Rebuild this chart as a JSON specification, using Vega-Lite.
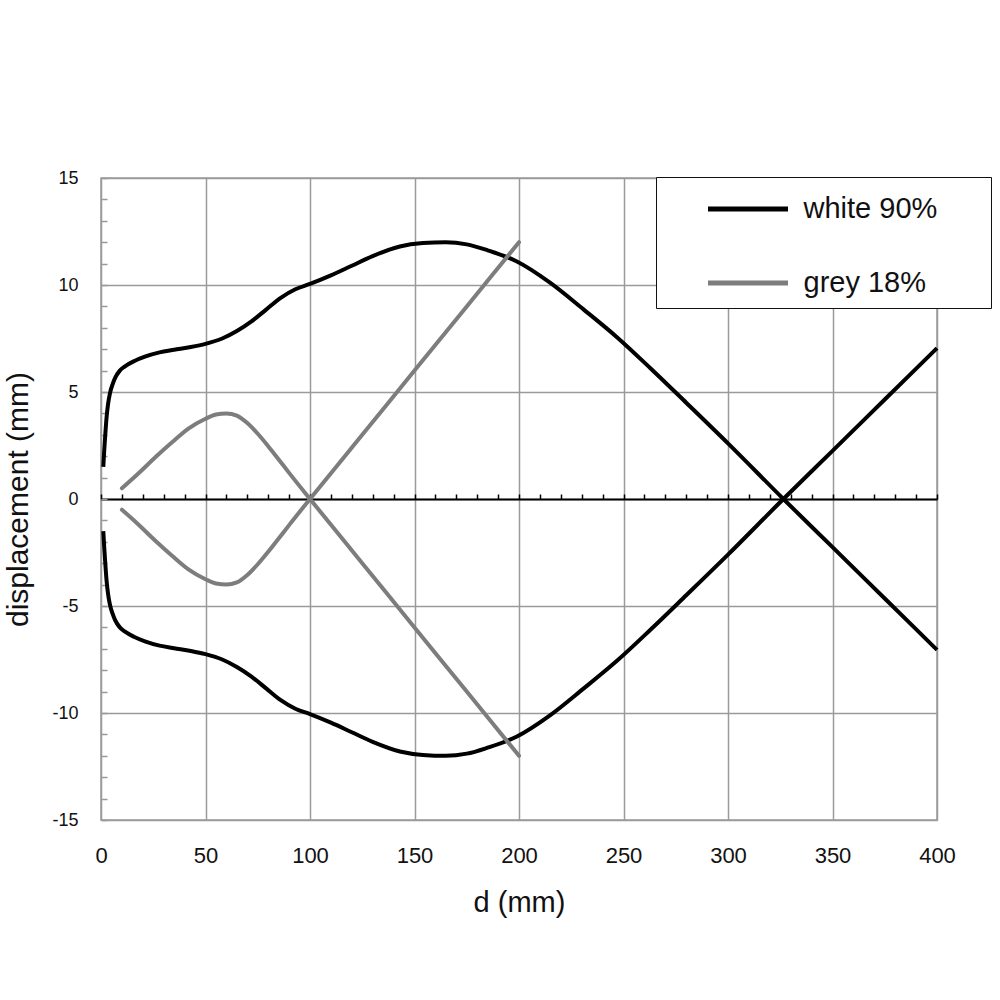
{
  "$schema": "https://vega.github.io/schema/vega-lite/v6.json",
  "width": 836,
  "height": 642,
  "autosize": "none",
  "padding": {"left": 101, "top": 178, "right": 63, "bottom": 180},
  "background": "white",
  "config": {
    "view": {"stroke": "#9a9a9a", "strokeWidth": 1.5},
    "font": "Liberation Sans",
    "axis": {
      "gridColor": "#9a9a9a",
      "gridWidth": 1.5,
      "gridOpacity": 1,
      "labelColor": "#111",
      "titleColor": "#111",
      "labelFont": "Liberation Sans",
      "titleFont": "Liberation Sans",
      "titleFontWeight": "normal"
    }
  },
  "layer": [
    {
      "data": {
        "values": [
          {"d": 1.1, "disp": 1.5, "series": "white 90%", "branch": "up"},
          {"d": 1.5, "disp": 2.2, "series": "white 90%", "branch": "up"},
          {"d": 1.9, "disp": 2.8, "series": "white 90%", "branch": "up"},
          {"d": 2.7, "disp": 3.85, "series": "white 90%", "branch": "up"},
          {"d": 3.4, "disp": 4.45, "series": "white 90%", "branch": "up"},
          {"d": 4.3, "disp": 4.95, "series": "white 90%", "branch": "up"},
          {"d": 5.5, "disp": 5.35, "series": "white 90%", "branch": "up"},
          {"d": 6.7, "disp": 5.65, "series": "white 90%", "branch": "up"},
          {"d": 9, "disp": 6.0, "series": "white 90%", "branch": "up"},
          {"d": 11.5, "disp": 6.2, "series": "white 90%", "branch": "up"},
          {"d": 16, "disp": 6.45, "series": "white 90%", "branch": "up"},
          {"d": 21, "disp": 6.65, "series": "white 90%", "branch": "up"},
          {"d": 28, "disp": 6.85, "series": "white 90%", "branch": "up"},
          {"d": 35, "disp": 6.97, "series": "white 90%", "branch": "up"},
          {"d": 43, "disp": 7.1, "series": "white 90%", "branch": "up"},
          {"d": 50, "disp": 7.25, "series": "white 90%", "branch": "up"},
          {"d": 58, "disp": 7.5, "series": "white 90%", "branch": "up"},
          {"d": 65, "disp": 7.85, "series": "white 90%", "branch": "up"},
          {"d": 72, "disp": 8.3, "series": "white 90%", "branch": "up"},
          {"d": 79, "disp": 8.85, "series": "white 90%", "branch": "up"},
          {"d": 86, "disp": 9.4, "series": "white 90%", "branch": "up"},
          {"d": 93, "disp": 9.8, "series": "white 90%", "branch": "up"},
          {"d": 100, "disp": 10.05, "series": "white 90%", "branch": "up"},
          {"d": 110, "disp": 10.45, "series": "white 90%", "branch": "up"},
          {"d": 120, "disp": 10.9, "series": "white 90%", "branch": "up"},
          {"d": 130, "disp": 11.35, "series": "white 90%", "branch": "up"},
          {"d": 143, "disp": 11.8, "series": "white 90%", "branch": "up"},
          {"d": 154, "disp": 11.96, "series": "white 90%", "branch": "up"},
          {"d": 165, "disp": 12.0, "series": "white 90%", "branch": "up"},
          {"d": 175, "disp": 11.9, "series": "white 90%", "branch": "up"},
          {"d": 185, "disp": 11.62, "series": "white 90%", "branch": "up"},
          {"d": 199, "disp": 11.1, "series": "white 90%", "branch": "up"},
          {"d": 215, "disp": 10.1, "series": "white 90%", "branch": "up"},
          {"d": 231, "disp": 8.85, "series": "white 90%", "branch": "up"},
          {"d": 247, "disp": 7.55, "series": "white 90%", "branch": "up"},
          {"d": 263, "disp": 6.1, "series": "white 90%", "branch": "up"},
          {"d": 280, "disp": 4.5, "series": "white 90%", "branch": "up"},
          {"d": 300, "disp": 2.6, "series": "white 90%", "branch": "up"},
          {"d": 326.5, "disp": 0, "series": "white 90%", "branch": "up"},
          {"d": 350, "disp": -2.25, "series": "white 90%", "branch": "up"},
          {"d": 375, "disp": -4.65, "series": "white 90%", "branch": "up"},
          {"d": 400, "disp": -7.05, "series": "white 90%", "branch": "up"},
          {"d": 1.1, "disp": -1.5, "series": "white 90%", "branch": "down"},
          {"d": 1.5, "disp": -2.2, "series": "white 90%", "branch": "down"},
          {"d": 1.9, "disp": -2.8, "series": "white 90%", "branch": "down"},
          {"d": 2.7, "disp": -3.85, "series": "white 90%", "branch": "down"},
          {"d": 3.4, "disp": -4.45, "series": "white 90%", "branch": "down"},
          {"d": 4.3, "disp": -4.95, "series": "white 90%", "branch": "down"},
          {"d": 5.5, "disp": -5.35, "series": "white 90%", "branch": "down"},
          {"d": 6.7, "disp": -5.65, "series": "white 90%", "branch": "down"},
          {"d": 9, "disp": -6.0, "series": "white 90%", "branch": "down"},
          {"d": 11.5, "disp": -6.2, "series": "white 90%", "branch": "down"},
          {"d": 16, "disp": -6.45, "series": "white 90%", "branch": "down"},
          {"d": 21, "disp": -6.65, "series": "white 90%", "branch": "down"},
          {"d": 28, "disp": -6.85, "series": "white 90%", "branch": "down"},
          {"d": 35, "disp": -6.97, "series": "white 90%", "branch": "down"},
          {"d": 43, "disp": -7.1, "series": "white 90%", "branch": "down"},
          {"d": 50, "disp": -7.25, "series": "white 90%", "branch": "down"},
          {"d": 58, "disp": -7.5, "series": "white 90%", "branch": "down"},
          {"d": 65, "disp": -7.85, "series": "white 90%", "branch": "down"},
          {"d": 72, "disp": -8.3, "series": "white 90%", "branch": "down"},
          {"d": 79, "disp": -8.85, "series": "white 90%", "branch": "down"},
          {"d": 86, "disp": -9.4, "series": "white 90%", "branch": "down"},
          {"d": 93, "disp": -9.8, "series": "white 90%", "branch": "down"},
          {"d": 100, "disp": -10.05, "series": "white 90%", "branch": "down"},
          {"d": 110, "disp": -10.45, "series": "white 90%", "branch": "down"},
          {"d": 120, "disp": -10.9, "series": "white 90%", "branch": "down"},
          {"d": 130, "disp": -11.35, "series": "white 90%", "branch": "down"},
          {"d": 143, "disp": -11.8, "series": "white 90%", "branch": "down"},
          {"d": 154, "disp": -11.96, "series": "white 90%", "branch": "down"},
          {"d": 165, "disp": -12.0, "series": "white 90%", "branch": "down"},
          {"d": 175, "disp": -11.9, "series": "white 90%", "branch": "down"},
          {"d": 185, "disp": -11.62, "series": "white 90%", "branch": "down"},
          {"d": 199, "disp": -11.1, "series": "white 90%", "branch": "down"},
          {"d": 215, "disp": -10.1, "series": "white 90%", "branch": "down"},
          {"d": 231, "disp": -8.85, "series": "white 90%", "branch": "down"},
          {"d": 247, "disp": -7.55, "series": "white 90%", "branch": "down"},
          {"d": 263, "disp": -6.1, "series": "white 90%", "branch": "down"},
          {"d": 280, "disp": -4.5, "series": "white 90%", "branch": "down"},
          {"d": 300, "disp": -2.6, "series": "white 90%", "branch": "down"},
          {"d": 326.5, "disp": 0, "series": "white 90%", "branch": "down"},
          {"d": 350, "disp": 2.25, "series": "white 90%", "branch": "down"},
          {"d": 375, "disp": 4.65, "series": "white 90%", "branch": "down"},
          {"d": 400, "disp": 7.05, "series": "white 90%", "branch": "down"}
        ]
      },
      "mark": {"type": "line", "interpolate": "monotone", "strokeWidth": 4, "strokeCap": "butt"},
      "encoding": {
        "x": {
          "field": "d",
          "type": "quantitative",
          "scale": {"domain": [0, 400], "nice": false},
          "axis": {
            "orient": "bottom",
            "title": "d (mm)",
            "values": [0, 50, 100, 150, 200, 250, 300, 350, 400],
            "grid": true,
            "ticks": false,
            "domain": false,
            "labelFontSize": 22,
            "labelPadding": 25,
            "labelFlush": false,
            "titleFontSize": 29,
            "titlePadding": 22
          }
        },
        "y": {
          "field": "disp",
          "type": "quantitative",
          "scale": {"domain": [-15, 15], "nice": false},
          "axis": {
            "orient": "left",
            "title": "displacement (mm)",
            "values": [-15, -10, -5, 0, 5, 10, 15],
            "labelExpr": "'' + datum.value",
            "grid": true,
            "ticks": false,
            "domain": false,
            "labelFontSize": 18,
            "labelPadding": 23,
            "labelFlush": false,
            "titleFontSize": 30,
            "titlePadding": 18
          }
        },
        "color": {
          "field": "series",
          "type": "nominal",
          "scale": {"domain": ["white 90%", "grey 18%"], "range": ["#000000", "#7d7d7d"]},
          "legend": {
            "title": "x",
            "titleOrient": "right",
            "titleFontSize": 10,
            "titleOpacity": 0,
            "titlePadding": 38,
            "orient": "none",
            "legendX": 555,
            "legendY": -1,
            "padding": 9.5,
            "symbolType": "M-2,0H2",
            "symbolSize": 1600,
            "symbolStrokeWidth": 5,
            "symbolOffset": 60,
            "labelOffset": 33,
            "rowPadding": 36,
            "labelFontSize": 29,
            "labelLimit": 400,
            "labelFont": "Liberation Sans",
            "labelColor": "#111",
            "fillColor": "white",
            "strokeColor": "#111"
          }
        },
        "detail": {"field": "branch", "type": "nominal"}
      }
    },
    {
      "data": {
        "values": [
          {"d": 10, "disp": 0.5, "series": "grey 18%", "branch": "up"},
          {"d": 18, "disp": 1.2, "series": "grey 18%", "branch": "up"},
          {"d": 26, "disp": 1.95, "series": "grey 18%", "branch": "up"},
          {"d": 34, "disp": 2.65, "series": "grey 18%", "branch": "up"},
          {"d": 42, "disp": 3.3, "series": "grey 18%", "branch": "up"},
          {"d": 50, "disp": 3.75, "series": "grey 18%", "branch": "up"},
          {"d": 55, "disp": 3.95, "series": "grey 18%", "branch": "up"},
          {"d": 60, "disp": 4.0, "series": "grey 18%", "branch": "up"},
          {"d": 65, "disp": 3.9, "series": "grey 18%", "branch": "up"},
          {"d": 70, "disp": 3.55, "series": "grey 18%", "branch": "up"},
          {"d": 75, "disp": 3.05, "series": "grey 18%", "branch": "up"},
          {"d": 80, "disp": 2.47, "series": "grey 18%", "branch": "up"},
          {"d": 85, "disp": 1.85, "series": "grey 18%", "branch": "up"},
          {"d": 90, "disp": 1.22, "series": "grey 18%", "branch": "up"},
          {"d": 100, "disp": 0, "series": "grey 18%", "branch": "up"},
          {"d": 125, "disp": -3, "series": "grey 18%", "branch": "up"},
          {"d": 150, "disp": -6, "series": "grey 18%", "branch": "up"},
          {"d": 175, "disp": -9, "series": "grey 18%", "branch": "up"},
          {"d": 200, "disp": -12, "series": "grey 18%", "branch": "up"},
          {"d": 10, "disp": -0.5, "series": "grey 18%", "branch": "down"},
          {"d": 18, "disp": -1.2, "series": "grey 18%", "branch": "down"},
          {"d": 26, "disp": -1.95, "series": "grey 18%", "branch": "down"},
          {"d": 34, "disp": -2.65, "series": "grey 18%", "branch": "down"},
          {"d": 42, "disp": -3.3, "series": "grey 18%", "branch": "down"},
          {"d": 50, "disp": -3.75, "series": "grey 18%", "branch": "down"},
          {"d": 55, "disp": -3.95, "series": "grey 18%", "branch": "down"},
          {"d": 60, "disp": -4.0, "series": "grey 18%", "branch": "down"},
          {"d": 65, "disp": -3.9, "series": "grey 18%", "branch": "down"},
          {"d": 70, "disp": -3.55, "series": "grey 18%", "branch": "down"},
          {"d": 75, "disp": -3.05, "series": "grey 18%", "branch": "down"},
          {"d": 80, "disp": -2.47, "series": "grey 18%", "branch": "down"},
          {"d": 85, "disp": -1.85, "series": "grey 18%", "branch": "down"},
          {"d": 90, "disp": -1.22, "series": "grey 18%", "branch": "down"},
          {"d": 100, "disp": 0, "series": "grey 18%", "branch": "down"},
          {"d": 125, "disp": 3, "series": "grey 18%", "branch": "down"},
          {"d": 150, "disp": 6, "series": "grey 18%", "branch": "down"},
          {"d": 175, "disp": 9, "series": "grey 18%", "branch": "down"},
          {"d": 200, "disp": 12, "series": "grey 18%", "branch": "down"}
        ]
      },
      "mark": {"type": "line", "interpolate": "monotone", "strokeWidth": 4, "strokeCap": "round"},
      "encoding": {
        "x": {
          "field": "d",
          "type": "quantitative",
          "axis": {
            "orient": "top",
            "offset": -321,
            "title": null,
            "labels": false,
            "grid": false,
            "values": [0, 10, 20, 30, 40, 50, 60, 70, 80, 90, 100, 110, 120, 130, 140, 150, 160, 170, 180, 190, 200, 210, 220, 230, 240, 250, 260, 270, 280, 290, 300, 310, 320, 330, 340, 350, 360, 370, 380, 390, 400],
            "ticks": true,
            "tickSize": 5,
            "tickWidth": 1.5,
            "tickColor": "#000",
            "domain": true,
            "domainColor": "#000",
            "domainWidth": 2
          }
        },
        "y": {
          "field": "disp",
          "type": "quantitative",
          "axis": {
            "orient": "right",
            "offset": -836,
            "title": null,
            "labels": false,
            "grid": false,
            "values": [-15, -14, -13, -12, -11, -10, -9, -8, -7, -6, -5, -4, -3, -2, -1, 0, 1, 2, 3, 4, 5, 6, 7, 8, 9, 10, 11, 12, 13, 14, 15],
            "ticks": true,
            "tickSize": 6,
            "tickWidth": 1.5,
            "tickColor": "#9a9a9a",
            "domain": false
          }
        },
        "color": {"field": "series", "type": "nominal"},
        "detail": {"field": "branch", "type": "nominal"}
      }
    }
  ]
}
